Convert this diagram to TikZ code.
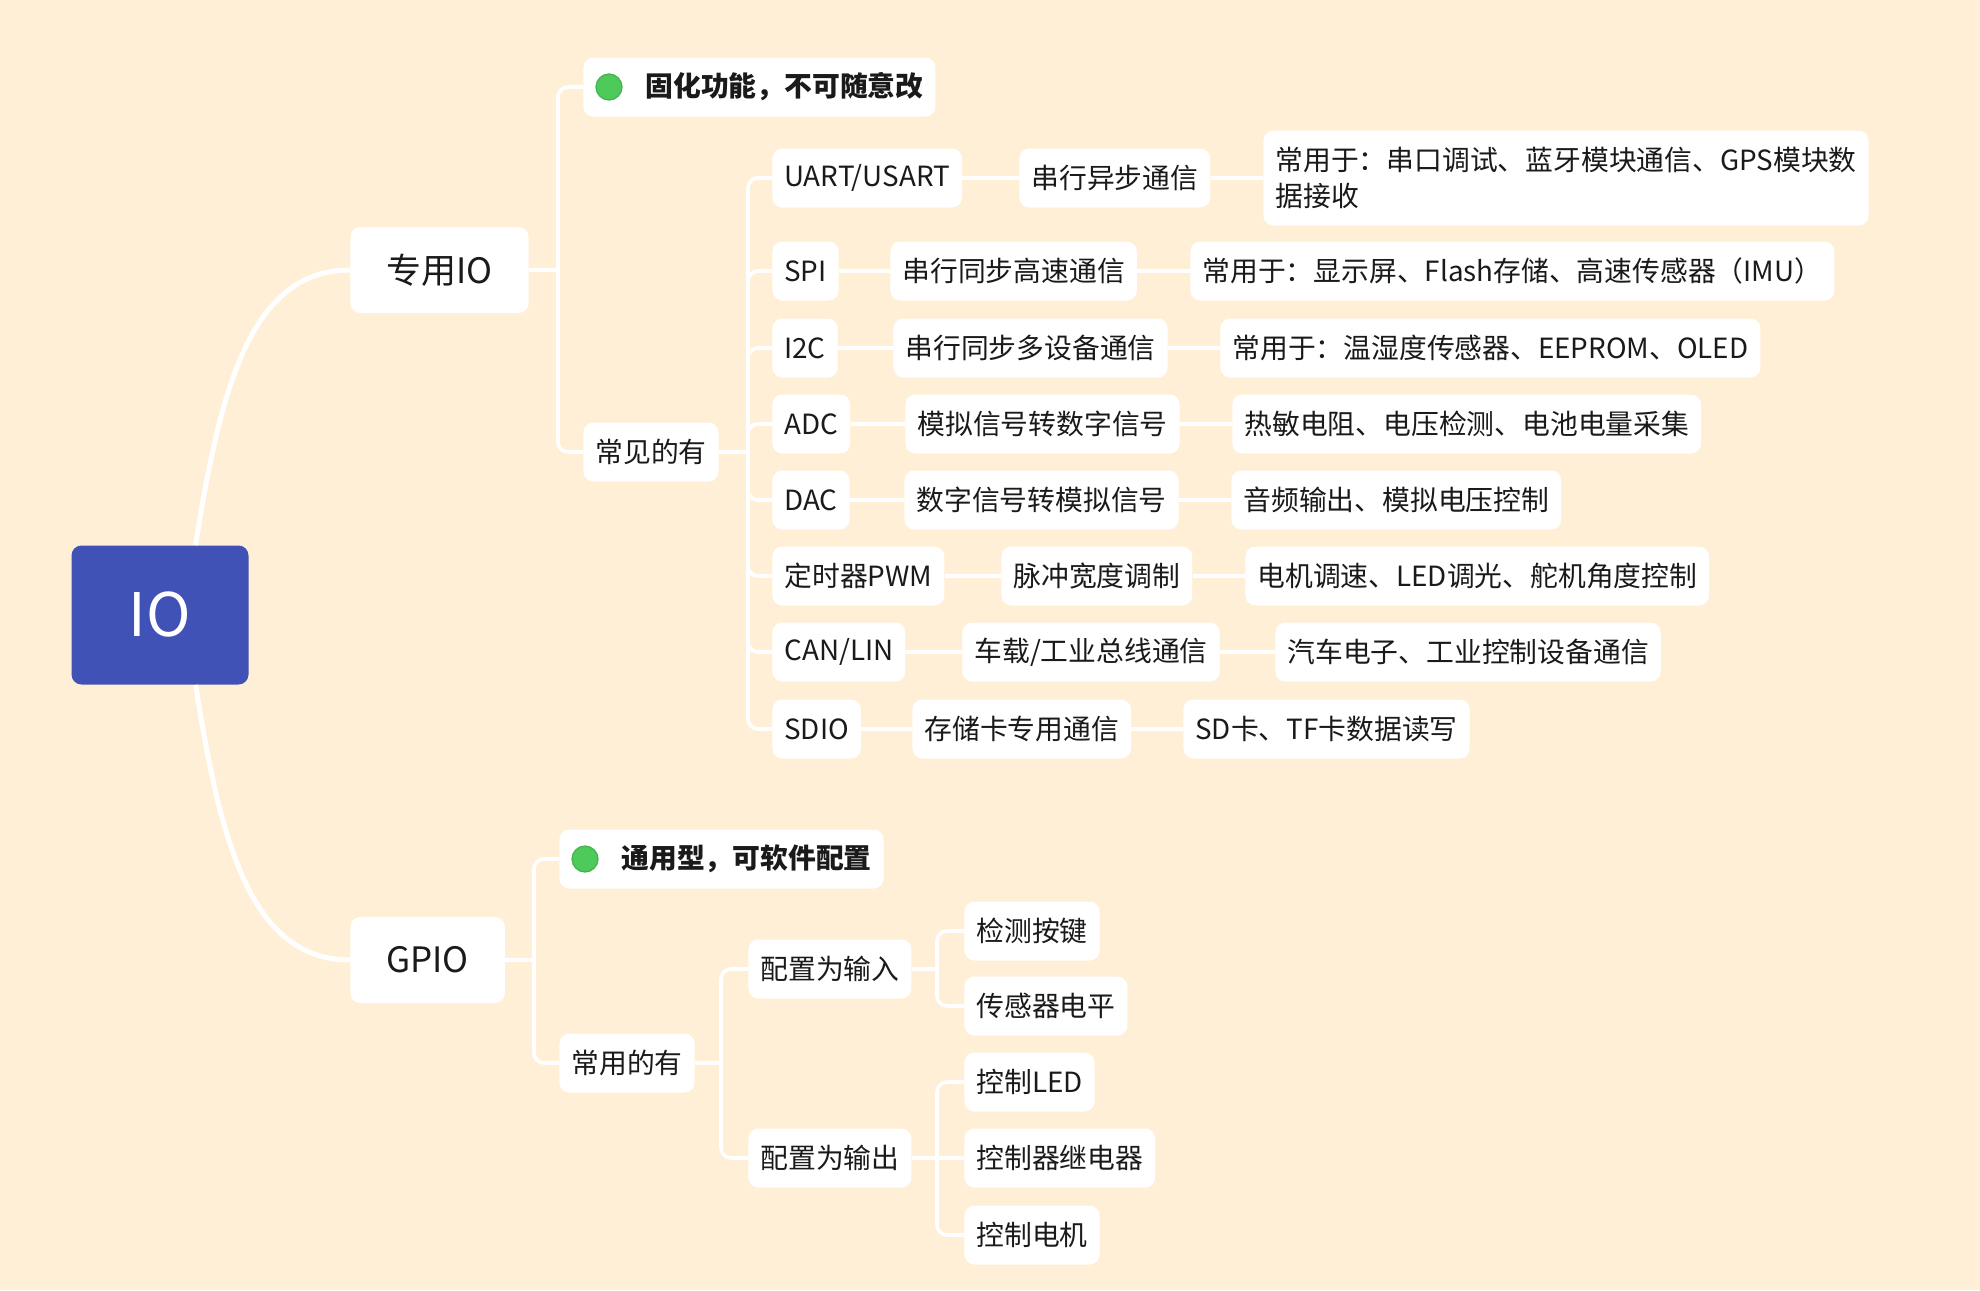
\documentclass[tikz,border=0pt]{standalone}
\usepackage{fontspec}
\setmainfont{Noto Sans CJK SC}
\usetikzlibrary{calc}
\definecolor{paper}{RGB}{255,239,214}
\definecolor{ioblue}{RGB}{64,82,181}
\definecolor{ink}{RGB}{26,26,26}
\definecolor{dotgreen}{RGB}{78,202,90}
\definecolor{dotedge}{RGB}{66,178,78}
\tikzstyle{root}=[rectangle,rounded corners=5pt,fill=ioblue,text=white,minimum width=88.5pt,minimum height=69.5pt,font=\fontsize{30}{30}\selectfont]
\tikzstyle{main}=[rectangle,rounded corners=5pt,fill=white,text=ink,anchor=west,minimum height=43pt,inner xsep=18pt,font=\fontsize{17.5}{20}\selectfont]
\tikzstyle{box}=[rectangle,rounded corners=5pt,fill=white,text=ink,anchor=west,minimum height=29.5pt,inner xsep=6pt,font=\fontsize{13.9}{18}\selectfont]
\tikzstyle{note}=[box,font=\fontsize{13.9}{18}\selectfont\bfseries]
\tikzstyle{dot}=[fill=dotgreen,draw=dotedge,line width=0.6pt]
\tikzstyle{branch}=[draw=white,line width=2.5pt]
\tikzstyle{link}=[draw=white,line width=1.8pt,rounded corners=5pt]

\begin{document}
\begin{tikzpicture}[x=0.5pt,y=-0.5pt]
      \fill[paper] (0,0) rectangle (1980,1290);
      \node[root] (io) at (160,615) {IO};
      \node[main] (zy) at (350,270) {专用IO};
      \node[main] (gpio) at (350,960) {GPIO};

      \node[note] (fix) at (583,87) {\hspace*{25pt}固化功能，不可随意改};
      \fill[dot] ($(fix.west)+(26,0)$) circle[radius=6.5pt];
      \node[box] (com) at (583,452) {常见的有};

      \node[box] (uart) at (772,178) {UART/USART};
      \node[box] (uartd) at (1019,178) {串行异步通信};
      \node[box,align=left,minimum height=47.5pt] (uartu) at (1263,178) {常用于：串口调试、蓝牙模块通信、GPS模块数\\据接收};
      \node[box] (spi) at (772,271) {SPI};
      \node[box] (spid) at (890,271) {串行同步高速通信};
      \node[box] (spiu) at (1190,271) {常用于：显示屏、Flash存储、高速传感器（IMU）};
      \node[box] (iic) at (772,348) {I2C};
      \node[box] (iicd) at (893,348) {串行同步多设备通信};
      \node[box] (iicu) at (1220,348) {常用于：温湿度传感器、EEPROM、OLED};
      \node[box] (adc) at (772,424) {ADC};
      \node[box] (adcd) at (905,424) {模拟信号转数字信号};
      \node[box] (adcu) at (1232,424) {热敏电阻、电压检测、电池电量采集};
      \node[box] (dac) at (772,500) {DAC};
      \node[box] (dacd) at (904,500) {数字信号转模拟信号};
      \node[box] (dacu) at (1231,500) {音频输出、模拟电压控制};
      \node[box] (pwm) at (772,576) {定时器PWM};
      \node[box] (pwmd) at (1001,576) {脉冲宽度调制};
      \node[box] (pwmu) at (1245,576) {电机调速、LED调光、舵机角度控制};
      \node[box] (can) at (772,652) {CAN/LIN};
      \node[box] (cand) at (962,652) {车载/工业总线通信};
      \node[box] (canu) at (1275,652) {汽车电子、工业控制设备通信};
      \node[box] (sdio) at (772,729) {SDIO};
      \node[box] (sdiod) at (912,729) {存储卡专用通信};
      \node[box] (sdiou) at (1183,729) {SD卡、TF卡数据读写};

      \node[note] (gen) at (559,859) {\hspace*{25pt}通用型，可软件配置};
      \fill[dot] ($(gen.west)+(26,0)$) circle[radius=6.5pt];
      \node[box] (oft) at (559,1063) {常用的有};
      \node[box] (cin) at (748,969) {配置为输入};
      \node[box] (cout) at (748,1158) {配置为输出};
      \node[box] (key) at (964,931) {检测按键};
      \node[box] (lvl) at (964,1006) {传感器电平};
      \node[box] (led) at (964,1082) {控制LED};
      \node[box] (relay) at (964,1158) {控制器继电器};
      \node[box] (motor) at (964,1235) {控制电机};

      \coordinate (jzy) at (558,270);
      \coordinate (jcom) at (748,452);
      \coordinate (jgp) at (534,960);
      \coordinate (joft) at (721,1063);
      \coordinate (jin) at (937,969);
      \coordinate (jout) at (937,1158);

      \draw[branch] (io.63) .. controls (220,390) and (250,270) .. (zy.west);
      \draw[branch] (io.-63) .. controls (220,840) and (250,960) .. (gpio.west);

      \draw[link] (zy) -- (jzy);
      \draw[link] (jzy) |- (fix);
      \draw[link] (jzy) |- (com);
      \draw[link] (com) -- (jcom);
      \draw[link] (jcom) |- (uart);
      \draw[link] (jcom) |- (spi);
      \draw[link] (jcom) |- (iic);
      \draw[link] (jcom) |- (adc);
      \draw[link] (jcom) |- (dac);
      \draw[link] (jcom) |- (pwm);
      \draw[link] (jcom) |- (can);
      \draw[link] (jcom) |- (sdio);
      \draw[link] (uart) -- (uartd);
      \draw[link] (uartd) -- (uartu);
      \draw[link] (spi) -- (spid);
      \draw[link] (spid) -- (spiu);
      \draw[link] (iic) -- (iicd);
      \draw[link] (iicd) -- (iicu);
      \draw[link] (adc) -- (adcd);
      \draw[link] (adcd) -- (adcu);
      \draw[link] (dac) -- (dacd);
      \draw[link] (dacd) -- (dacu);
      \draw[link] (pwm) -- (pwmd);
      \draw[link] (pwmd) -- (pwmu);
      \draw[link] (can) -- (cand);
      \draw[link] (cand) -- (canu);
      \draw[link] (sdio) -- (sdiod);
      \draw[link] (sdiod) -- (sdiou);

      \draw[link] (gpio) -- (jgp);
      \draw[link] (jgp) |- (gen);
      \draw[link] (jgp) |- (oft);
      \draw[link] (oft) -- (joft);
      \draw[link] (joft) |- (cin);
      \draw[link] (joft) |- (cout);
      \draw[link] (cin) -- (jin);
      \draw[link] (jin) |- (key);
      \draw[link] (jin) |- (lvl);
      \draw[link] (cout) -- (jout);
      \draw[link] (jout) |- (led);
      \draw[link] (cout) -- (relay);
      \draw[link] (jout) |- (motor);
\end{tikzpicture}
\end{document}
